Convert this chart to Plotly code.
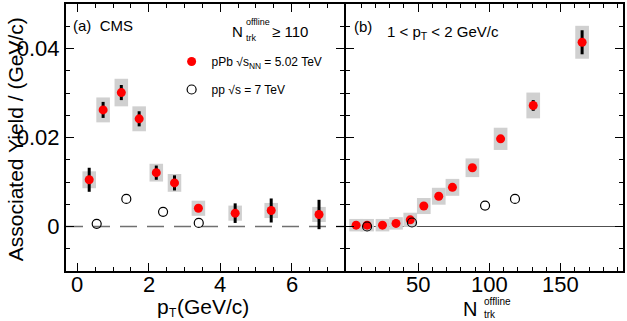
import plotly.graph_objects as go

# ---------------- data ----------------
# panel (a): yield vs pT, N_trk^offline >= 110
pt_pPb = [0.33, 0.72, 1.23, 1.73, 2.21, 2.72, 3.39, 4.42, 5.43, 6.77]
yield_pPb_pt = [0.0105, 0.0262, 0.0301, 0.0242, 0.0121, 0.0098, 0.0041, 0.0030, 0.0036, 0.0027]
stat_pPb_pt = [0.0027, 0.0018, 0.0017, 0.0017, 0.0016, 0.0017, 0.0007, 0.0022, 0.0027, 0.0033]
sys_pPb_pt = [0.0019, 0.0028, 0.0031, 0.0028, 0.0020, 0.0020, 0.0017, 0.0017, 0.0017, 0.0017]
pt_pp = [0.54, 1.37, 2.40, 3.40]
yield_pp_pt = [0.0006, 0.0062, 0.0033, 0.0008]

# panel (b): yield vs N_trk^offline, 1 < pT < 2 GeV/c
ntrk_pPb = [6.5, 14.2, 25.0, 34.5, 44.5, 54.0, 64.5, 74.1, 88.1, 107.9, 130.8, 165.1]
yield_pPb_n = [0.0003, 0.0003, 0.0003, 0.0007, 0.0015, 0.0046, 0.0068, 0.0088, 0.0132, 0.0197, 0.0272, 0.0414]
stat_pPb_n = [0.0002, 0.0002, 0.0002, 0.0002, 0.0003, 0.0003, 0.0004, 0.0005, 0.0006, 0.0008, 0.0012, 0.0027]
sys_pPb_n = [0.0014, 0.0014, 0.0014, 0.0014, 0.0016, 0.0018, 0.0019, 0.0019, 0.0021, 0.0025, 0.0029, 0.0037]
ntrk_pp = [14.2, 45.7, 97.0, 118.0]
yield_pp_n = [0.0000, 0.0009, 0.0047, 0.0062]

# tick labels
xticks_pt = [0, 2, 4, 6]
xticks_n = [50, 100, 150]
yticks = [0, 0.02, 0.04]
yticktext = ["0", "0.02", "0.04"]

# ---------------- style ----------------
FONT = "Liberation Sans, Arial, Helvetica, sans-serif"
RED = "#ff0000"
BOX = "rgb(208,208,208)"
BOXW_PT = 0.38
BOXW_N = 9.6
W, H = 627, 321
ML, MR, MT, MB = 66, 2, 4, 50
PW, PH = W - ML - MR, H - MT - MB


def px(x):
    return (x - ML) / PW


def py(y):
    return (H - MB - y) / PH


fig = go.Figure()

# systematic boxes
fig.add_trace(go.Bar(
    x=pt_pPb, y=[2 * s for s in sys_pPb_pt],
    base=[v - s for v, s in zip(yield_pPb_pt, sys_pPb_pt)],
    width=BOXW_PT, marker=dict(color=BOX, line=dict(width=0)),
    showlegend=False, hoverinfo="skip", xaxis="x", yaxis="y"))
fig.add_trace(go.Bar(
    x=ntrk_pPb, y=[2 * s for s in sys_pPb_n],
    base=[v - s for v, s in zip(yield_pPb_n, sys_pPb_n)],
    width=BOXW_N, marker=dict(color=BOX, line=dict(width=0)),
    showlegend=False, hoverinfo="skip", xaxis="x2", yaxis="y2"))

# pPb points with stat errors
fig.add_trace(go.Scatter(
    x=pt_pPb, y=yield_pPb_pt, mode="markers",
    marker=dict(color=RED, size=9, line=dict(width=0)),
    error_y=dict(type="data", array=stat_pPb_pt, color="black", thickness=3, width=0),
    name="pPb √s<sub>NN</sub> = 5.02 TeV", legendgroup="a",
    xaxis="x", yaxis="y"))
fig.add_trace(go.Scatter(
    x=ntrk_pPb, y=yield_pPb_n, mode="markers",
    marker=dict(color=RED, size=9, line=dict(width=0)),
    error_y=dict(type="data", array=stat_pPb_n, color="black", thickness=3, width=0),
    showlegend=False, xaxis="x2", yaxis="y2"))

# pp points
fig.add_trace(go.Scatter(
    x=pt_pp, y=yield_pp_pt, mode="markers",
    marker=dict(symbol="circle-open", color="black", size=9, line=dict(width=1.2)),
    name="pp √s = 7 TeV", legendgroup="b",
    xaxis="x", yaxis="y"))
fig.add_trace(go.Scatter(
    x=ntrk_pp, y=yield_pp_n, mode="markers",
    marker=dict(symbol="circle-open", color="black", size=9, line=dict(width=1.2)),
    showlegend=False, xaxis="x2", yaxis="y2"))

# zero lines
fig.add_shape(type="line", xref="x domain", yref="y", x0=0, x1=1, y0=0, y1=0,
              line=dict(color="#707070", width=1.3, dash="17px,10px"), layer="below")
fig.add_shape(type="line", xref="x2 domain", yref="y2", x0=0, x1=1, y0=0, y1=0,
              line=dict(color="#505050", width=1.2), layer="below")

axis_common = dict(showline=True, linecolor="black", linewidth=2, mirror="ticks",
                   ticks="inside", tickcolor="black", tickwidth=1, ticklen=8,
                   showgrid=False, zeroline=False,
                   tickfont=dict(family=FONT, size=22, color="black"))

fig.update_layout(
    width=W, height=H,
    margin=dict(l=ML, r=MR, t=MT, b=MB),
    paper_bgcolor="white", plot_bgcolor="white",
    barmode="overlay",
    font=dict(family=FONT, color="black"),
    xaxis=dict(domain=[0, px(345)], range=[-0.32, 7.47], tickmode="array", tickvals=xticks_pt,
               showticklabels=False,
               minor=dict(ticks="inside", tickmode="linear", tick0=0, dtick=0.5, ticklen=4,
                          tickcolor="black", showgrid=False),
               anchor="y", **axis_common),
    yaxis=dict(domain=[0, 1], range=[-0.01, 0.05], tickmode="array",
               tickvals=yticks, ticktext=yticktext,
               minor=dict(ticks="inside", tickmode="linear", tick0=0, dtick=0.005, ticklen=4,
                          tickcolor="black", showgrid=False),
               anchor="x", **axis_common),
    xaxis2=dict(domain=[px(347), 1], range=[-0.6, 193.8], tickmode="array", tickvals=xticks_n,
                showticklabels=False,
                minor=dict(ticks="inside", tickmode="linear", tick0=0, dtick=10, ticklen=4,
                           tickcolor="black", showgrid=False),
                anchor="y2", **axis_common),
    yaxis2=dict(domain=[0, 1], range=[-0.01, 0.05], matches="y", showticklabels=False,
                tickmode="array", tickvals=yticks,
                minor=dict(ticks="inside", tickmode="linear", tick0=0, dtick=0.005, ticklen=4,
                           tickcolor="black", showgrid=False),
                anchor="x2", **axis_common),
    legend=dict(x=px(172), y=py(47), xanchor="left", yanchor="top",
                bgcolor="rgba(0,0,0,0)", font=dict(family=FONT, size=12, color="black"),
                traceorder="grouped", tracegroupgap=9),
    showlegend=True,
)

# x tick labels placed on the axis scale (closer to the frame than plotly's default)
for v in xticks_pt:
    fig.add_annotation(text=str(v), x=v, xref="x", y=py(284), yref="paper",
                       xanchor="center", yanchor="middle", showarrow=False, borderpad=0,
                       font=dict(family=FONT, size=22, color="black"))
for v in xticks_n:
    fig.add_annotation(text=str(v), x=v, xref="x2", y=py(284), yref="paper",
                       xanchor="center", yanchor="middle", showarrow=False, borderpad=0,
                       font=dict(family=FONT, size=22, color="black"))


def ann(text, x, y, size, xanchor="left", yanchor="middle", **kw):
    fig.add_annotation(text=text, x=px(x), y=py(y), xref="paper", yref="paper",
                       xanchor=xanchor, yanchor=yanchor, showarrow=False, borderpad=0,
                       font=dict(family=FONT, size=size, color="black"), **kw)


ann("(a)  CMS", 72, 26, 15)
ann("N", 232, 31, 15)
ann("offline", 246, 22, 9)
ann("trk", 246, 38, 9)
ann("≥ 110", 272, 31, 15)
ann("(b)", 354, 27, 15)
ann("1 < p<sub>T</sub> < 2 GeV/c", 387, 32, 15)
ann("Associated Yield / (GeV/c)", 15, 139, 21, xanchor="center", textangle=-90)
# p_T (GeV/c) title, pieces placed so the subscript sits like the original
ann("p", 156, 306, 21)
ann("T", 168, 313, 12)
ann("(GeV/c)", 176, 306, 21)
# N_trk^offline title
ann("N", 463, 309, 20)
ann("offline", 484, 301, 10)
ann("trk", 484, 314, 10)

fig.write_html("out.html")
